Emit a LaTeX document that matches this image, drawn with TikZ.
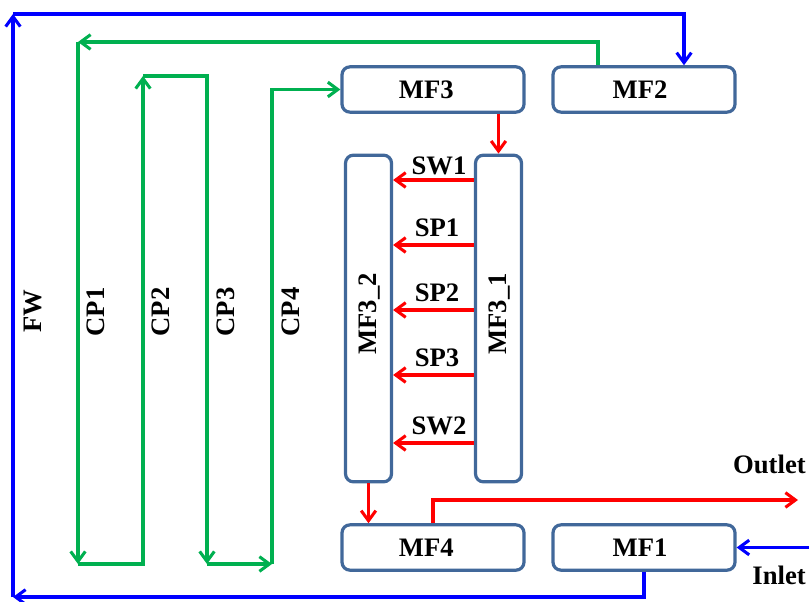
\documentclass[tikz,border=0pt]{standalone}
\usepackage{fontspec}
\setmainfont{Liberation Serif}
\usetikzlibrary{arrows.meta,calc}
\definecolor{boxc}{HTML}{41689A}
\definecolor{fgreen}{HTML}{00B050}
\definecolor{fblue}{HTML}{0000FF}
\definecolor{fred}{HTML}{FF0000}
\begin{document}
\begin{tikzpicture}[x=0.75pt,y=-0.75pt,
  font=\fontsize{20}{24}\selectfont\bfseries,
  box/.style={draw=boxc, line width=2.4pt, rounded corners=6pt, fill=white,
    minimum width=136.5pt, minimum height=34pt, inner sep=0pt},
  vbox/.style={box, minimum width=34.5pt, minimum height=245pt},
  tip/.style={-{Straight Barb[length=7.5pt,width=11pt,line width=2.3pt]}},
  bl/.style={draw=fblue, line width=2.3pt, tip},
  gr/.style={draw=fgreen, line width=2.3pt, tip},
  rd/.style={draw=fred, line width=2.3pt, tip},
  lab/.style={inner sep=0pt},
  vlab/.style={inner sep=0pt, rotate=90}]
\useasboundingbox (0,0) rectangle (809,602);

% boxes
\node[box] (mf3) at (433,89.5) {MF3\hspace*{10pt}};
\node[box] (mf2) at (644,89.5) {MF2\hspace*{6pt}};
\node[box] (mf4) at (433,547.5) {MF4\hspace*{10pt}};
\node[box] (mf1) at (644,547.5) {MF1\hspace*{6pt}};
\node[vbox] (mf32) at (368.5,318.5) {};
\node[vbox] (mf31) at (498.5,318.5) {};
\node[vlab] (t32) at (370,314) {MF3\_2};
\node[vlab] (t31) at (500,314) {MF3\_1};

% labels
\node[vlab] (fw) at (33,311) {FW};
\node[vlab] (cp1) at (96,312) {CP1};
\node[vlab] (cp2) at (161,312) {CP2};
\node[vlab] (cp3) at (226,312) {CP3};
\node[vlab] (cp4) at (291,312) {CP4};
\node[lab, anchor=base] (lsw1) at (439,175) {SW1};
\node[lab, anchor=base] (lsp1) at (437,236) {SP1};
\node[lab, anchor=base] (lsp2) at (437,301) {SP2};
\node[lab, anchor=base] (lsp3) at (437,366) {SP3};
\node[lab, anchor=base] (lsw2) at (439,434) {SW2};
\node[lab, anchor=base east] (outlet) at (806,473) {Outlet};
\node[lab, anchor=base east] (inlet) at (806,584) {Inlet};

% blue FW loop
\coordinate (fwbl) at (13,597);
\coordinate (fwtl) at (13,14);
\coordinate (fwtr) at (684,14);
\coordinate (inl) at (809,547.5);
\draw[bl] (mf1.south) -- (mf1.south |- fwbl) -- (fwbl);
\draw[bl] (fwbl) -- (fwtl);
\draw[bl] (fwtl) -- (fwtr) -- (fwtr |- mf2.north);
\draw[bl] (inl) -- (mf1.east);

% green CP path
\coordinate (g1) at (598,42);
\coordinate (g2) at (78,42);
\coordinate (g3) at (78,564);
\coordinate (g4) at (143,564);
\coordinate (g5) at (143,76);
\coordinate (g6) at (207,76);
\coordinate (g7) at (207,564);
\coordinate (g8) at (272,564);
\draw[gr] (mf2.north -| g1) -- (g1) -- (g2);
\draw[gr] (g2) -- (g3);
\draw[gr] (g3) -- (g4) -- (g5);
\draw[gr] (g5) -- (g6) -- (g7);
\draw[gr] (g7) -- (g8);
\draw[gr] (g8) -- (g8 |- mf3.west) -- (mf3.west);

% red
\coordinate (outc) at (798,500);
\draw[rd] (mf3.south -| mf31.north) -- (mf31.north);
\draw[rd] (mf32.south) -- (mf32.south |- mf4.north);
\draw[rd] (mf4.north) -- (mf4.north |- outc) -- (outc);
\foreach \yy in {180,245,310,375,443}{
  \draw[rd] (mf31.west |- 0,\yy) -- (mf32.east |- 0,\yy);
}
\end{tikzpicture}
\end{document}
